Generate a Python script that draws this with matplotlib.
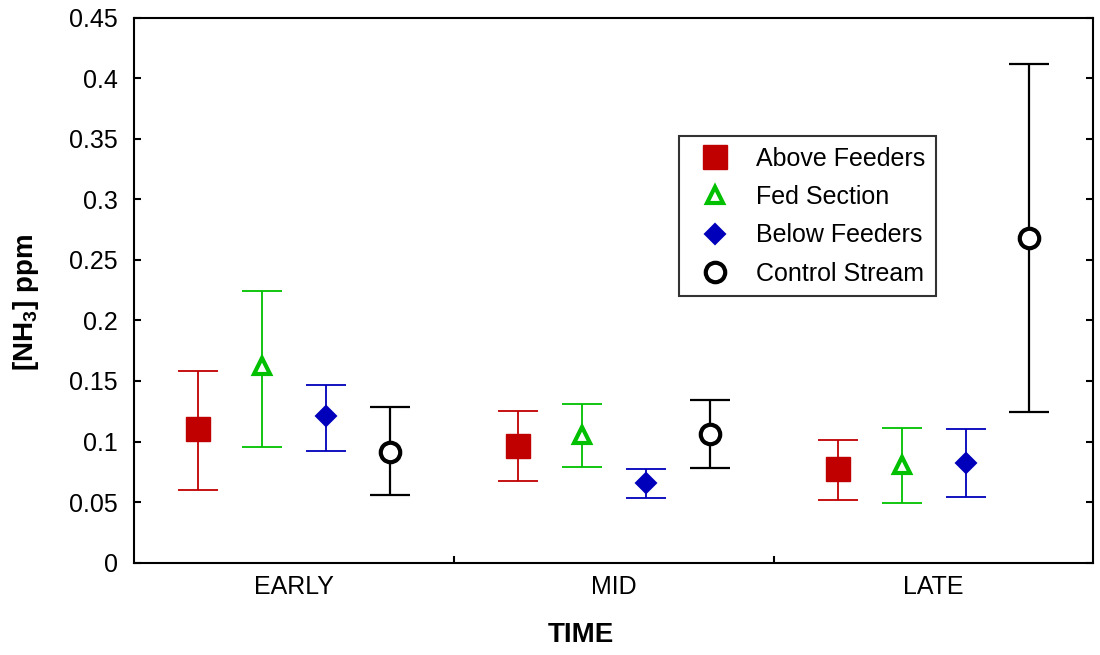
import matplotlib.pyplot as plt
import numpy as np

plt.rcParams["font.family"] = ["Liberation Sans", "DejaVu Sans"]
plt.rcParams["mathtext.fontset"] = "custom"
plt.rcParams["mathtext.rm"] = "Liberation Sans"
plt.rcParams["mathtext.bf"] = "Liberation Sans:bold"

periods = ["EARLY", "MID", "LATE"]
series = ["Above Feeders", "Fed Section", "Below Feeders", "Control Stream"]

# mean [NH3] and the lower / upper ends of each error bar, per period
above_mean = [0.110, 0.0965, 0.0775]
above_low = [0.060, 0.0675, 0.052]
above_high = [0.1585, 0.1255, 0.1015]

fed_mean = [0.162, 0.1055, 0.081]
fed_low = [0.0955, 0.079, 0.0495]
fed_high = [0.2245, 0.131, 0.111]

below_mean = [0.121, 0.066, 0.0825]
below_low = [0.0925, 0.053, 0.0545]
below_high = [0.147, 0.0775, 0.110]

control_mean = [0.0915, 0.1065, 0.268]
control_low = [0.056, 0.0785, 0.124]
control_high = [0.1285, 0.1345, 0.412]

styles = [
    dict(marker="s", color="#C00000", mfc="#C00000", ms=17, mew=1.0, elw=1.3),
    dict(marker="^", color="#00C000", mfc="white", ms=11, mew=3.0, elw=1.3),
    dict(marker="D", color="#0000BB", mfc="#0000BB", ms=10.5, mew=1.5, elw=1.3),
    dict(marker="o", color="black", mfc="white", ms=14, mew=3.0, elw=1.6),
]
offsets = [-0.3, -0.1, 0.1, 0.3]

data = [
    (above_mean, above_low, above_high),
    (fed_mean, fed_low, fed_high),
    (below_mean, below_low, below_high),
    (control_mean, control_low, control_high),
]

fig = plt.figure(figsize=(11, 6.55), dpi=100)
ax = fig.add_axes([0.122, 0.141, 0.872, 0.832])

x = np.arange(len(periods))
for name, (mean, low, high), st, off in zip(series, data, styles, offsets):
    mean = np.array(mean)
    yerr = [mean - np.array(low), np.array(high) - mean]
    ax.errorbar(x + off, mean, yerr=yerr, fmt="none", ecolor=st["color"],
                elinewidth=st["elw"], capsize=14.5, capthick=st["elw"], zorder=2)
    ax.plot(x + off, mean, linestyle="none", marker=st["marker"],
            color=st["color"], mfc=st["mfc"], mec=st["color"],
            ms=st["ms"], mew=st["mew"], label=name, zorder=3)

ax.set_xlim(-0.5, 2.5)
ax.set_ylim(0, 0.45)
ax.set_yticks(np.arange(0, 0.451, 0.05))
ax.set_yticklabels(["0", "0.05", "0.1", "0.15", "0.2", "0.25", "0.3",
                    "0.35", "0.4", "0.45"])
ax.set_xticks(x)
ax.set_xticklabels(periods)
ax.tick_params(axis="x", length=0, labelsize=18, pad=9)
ax.set_xticks([0.5, 1.5], minor=True)
ax.tick_params(axis="x", which="minor", direction="in", length=5, width=1.5)
ax.tick_params(axis="y", direction="in", length=5, width=1.5, labelsize=18,
               right=True, pad=12)
for s in ax.spines.values():
    s.set_linewidth(1.5)

ax.set_xlabel("TIME", fontsize=20, fontweight="bold")
ax.xaxis.set_label_coords(0.466, -0.108)
ax.set_ylabel("[NH$_\\mathbf{3}$] ppm", fontsize=20, fontweight="bold")
ax.yaxis.set_label_coords(-0.097, 0.477)

leg = ax.legend(loc="upper left", bbox_to_anchor=(0.568, 0.782), fontsize=18,
                frameon=True, fancybox=False, edgecolor="black",
                handletextpad=0.66, borderpad=0.42, labelspacing=0.57,
                handlelength=2.0, borderaxespad=0)
leg.get_frame().set_linewidth(1.5)

fig.savefig("out.png", dpi=100)
